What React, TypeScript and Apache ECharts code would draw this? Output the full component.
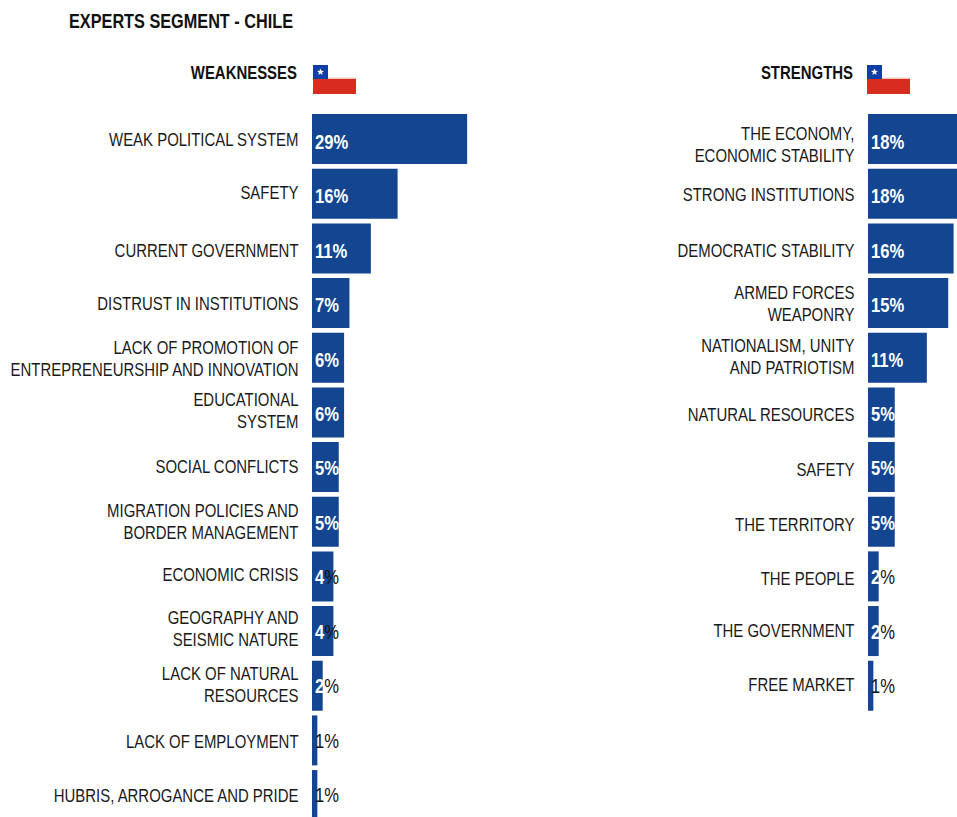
import React, { useEffect, useRef } from "react";
import * as echarts from "echarts";

const title = "EXPERTS SEGMENT - CHILE";
const weaknessHeader = "WEAKNESSES";
const strengthHeader = "STRENGTHS";
const weaknessCategories = [
  "WEAK POLITICAL SYSTEM",
  "SAFETY",
  "CURRENT GOVERNMENT",
  "DISTRUST IN INSTITUTIONS",
  "LACK OF PROMOTION OF\nENTREPRENEURSHIP AND INNOVATION",
  "EDUCATIONAL\nSYSTEM",
  "SOCIAL CONFLICTS",
  "MIGRATION POLICIES AND\nBORDER MANAGEMENT",
  "ECONOMIC CRISIS",
  "GEOGRAPHY AND\nSEISMIC NATURE",
  "LACK OF NATURAL\nRESOURCES",
  "LACK OF EMPLOYMENT",
  "HUBRIS, ARROGANCE AND PRIDE",
];
const weaknessValues = [29, 16, 11, 7, 6, 6, 5, 5, 4, 4, 2, 1, 1];
const strengthCategories = [
  "THE ECONOMY,\nECONOMIC STABILITY",
  "STRONG INSTITUTIONS",
  "DEMOCRATIC STABILITY",
  "ARMED FORCES\nWEAPONRY",
  "NATIONALISM, UNITY\nAND PATRIOTISM",
  "NATURAL RESOURCES",
  "SAFETY",
  "THE TERRITORY",
  "THE PEOPLE",
  "THE GOVERNMENT",
  "FREE MARKET",
];
const strengthValues = [18, 18, 16, 15, 11, 5, 5, 5, 2, 2, 1];

// Hand-set vertical label shifts (px) as seen in the reference, one per row.
const weaknessLabelShift = [1, -1, 3, 1, 1, -1, 0, 0, -1, -2, -1, 2, 1];
const strengthLabelShift = [6, 1, 3, 1, -1, 3, 3, 3, 3, 0, -1];

const FONT = "'Liberation Sans', Arial, sans-serif";
const BAR = "#134591";
const INK = "#1a1a1a";
// The reference's type is a condensed face; the whole chart is drawn wider and squeezed.
const SQUEEZE = 0.83;
const sx = (x: number) => x / SQUEEZE;

const pctLabel = (p: any) => {
  const v = p.value as number;
  if (v >= 5) return `{w|${v}%}`;
  if (v >= 2) return `{w|${v}}{k|%}`;
  return `{k|${v}%}`;
};

const starPoints = (cx: number, cy: number, R: number, r: number) => {
  const pts: number[][] = [];
  for (let i = 0; i < 10; i++) {
    const a = -Math.PI / 2 + (i * Math.PI) / 5;
    const rad = i % 2 === 0 ? R : r;
    pts.push([cx + rad * Math.cos(a), cy + rad * Math.sin(a)]);
  }
  return pts;
};

const flag = (x: number) => ({
  type: "group",
  x: sx(x),
  y: 65,
  scaleX: 1 / SQUEEZE,
  silent: true,
  children: [
    { type: "rect", shape: { x: 15, y: 12.6, width: 28, height: 1.4 }, style: { fill: "#f0c4bb" } },
    { type: "rect", shape: { x: 0, y: 14, width: 43, height: 15 }, style: { fill: "#d92c20" } },
    { type: "rect", shape: { x: 0, y: 0, width: 15, height: 14 }, style: { fill: "#0f3fa6" } },
    { type: "polygon", shape: { points: starPoints(7.5, 7, 3.6, 1.6) }, style: { fill: "#ffffff" } },
  ],
});

const headerText = (x: number, y: number, text: string, align: string, size: number) => ({
  type: "text",
  x: sx(x),
  y,
  silent: true,
  style: {
    text,
    fill: "#111111",
    font: `bold ${size}px ${FONT}`,
    textAlign: align,
    textVerticalAlign: "middle",
  },
});

const rowStep = 54.67;
const pxPerPct = 5.35;

const makeGrid = (left: number, max: number, rows: number) => ({
  left: sx(left),
  top: 111.7,
  width: sx(max * pxPerPct),
  height: rows * rowStep,
  containLabel: false,
  outerBoundsMode: "none",
});

const makeXAxis = (gridIndex: number, max: number) => ({
  type: "value" as const,
  gridIndex,
  min: 0,
  max,
  show: false,
});

const tokenStyle = (padding: number[]) => ({
  color: INK,
  fontFamily: FONT,
  fontSize: 18,
  lineHeight: 22,
  align: "right" as const,
  padding,
});

// One rich style per distinct shift: padding above a line moves it down by half, below moves it up.
const labelRich: Record<string, any> = { n: tokenStyle([0, 0, 0, 0]) };
for (let d = 1; d <= 6; d++) {
  labelRich[`d${d}`] = tokenStyle([d * 2, 0, 0, 0]);
  labelRich[`u${d}`] = tokenStyle([0, 0, d * 2, 0]);
}

const makeLabelFormatter = (shifts: number[]) => (value: string, index: number) => {
  const d = shifts[index] ?? 0;
  const name = d > 0 ? `d${d}` : d < 0 ? `u${-d}` : "n";
  return value
    .split("\n")
    .map((line) => `{${name}|${line}}`)
    .join("\n");
};

const makeYAxis = (gridIndex: number, data: string[], shifts: number[]) => ({
  type: "category" as const,
  gridIndex,
  data,
  inverse: true,
  axisLine: { show: false },
  axisTick: { show: false },
  splitLine: { show: false },
  axisLabel: {
    interval: 0,
    margin: sx(13.5),
    color: INK,
    fontFamily: FONT,
    fontSize: 18,
    lineHeight: 22,
    align: "right" as const,
    hideOverlap: false,
    formatter: makeLabelFormatter(shifts),
    rich: labelRich,
  },
});

const makeSeries = (idx: number, data: number[]) => ({
  type: "bar" as const,
  xAxisIndex: idx,
  yAxisIndex: idx,
  data: data.map((value, i) => ({ value, label: { offset: [0, 2.6 - i * 0.22] } })),
  barWidth: 50,
  itemStyle: { color: BAR },
  silent: true,
  label: {
    show: true,
    position: "insideLeft" as const,
    distance: sx(3),
    formatter: pctLabel,
    rich: {
      w: { color: "#ffffff", fontFamily: FONT, fontSize: 20, fontWeight: "bold" as const },
      k: { color: "#111111", fontFamily: FONT, fontSize: 20 },
    },
  },
});

export default function App() {
  const ref = useRef<HTMLDivElement>(null);
  useEffect(() => {
    document.body.style.margin = "0";
    const chart = echarts.init(ref.current!, undefined, { renderer: "svg" });
    chart.setOption({
      animation: false,
      backgroundColor: "#ffffff",
      grid: [makeGrid(312, 30, weaknessValues.length), makeGrid(868, 20, strengthValues.length)],
      xAxis: [makeXAxis(0, 30), makeXAxis(1, 20)],
      yAxis: [
        makeYAxis(0, weaknessCategories, weaknessLabelShift),
        makeYAxis(1, strengthCategories, strengthLabelShift),
      ],
      series: [makeSeries(0, weaknessValues), makeSeries(1, strengthValues)],
      graphic: [
        headerText(69, 21, title, "left", 19.6),
        headerText(297, 73, weaknessHeader, "right", 18),
        headerText(853, 73, strengthHeader, "right", 18),
        flag(313),
        flag(867),
      ],
    });
    return () => chart.dispose();
  }, []);
  return (
    <div style={{ width: 957, height: 817, overflow: "hidden" }}>
      <div
        ref={ref}
        style={{ width: sx(957), height: 817, transform: `scaleX(${SQUEEZE})`, transformOrigin: "0 0" }}
      />
    </div>
  );
}
